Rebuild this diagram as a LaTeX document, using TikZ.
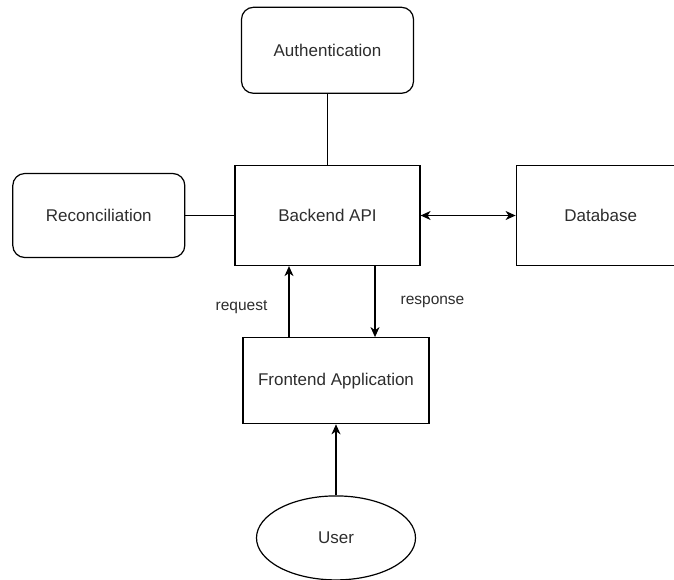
\documentclass[tikz,border=0pt]{standalone}
\usepackage{fontspec}
\setmainfont{Liberation Sans}
\usepackage{xcolor}
\usepackage{tikz}
\usetikzlibrary{shapes.geometric, arrows.meta, positioning, calc}
\definecolor{lineDark}{RGB}{0, 0, 0}
\definecolor{textDark}{RGB}{45, 45, 45}

\begin{document}
\begin{tikzpicture}[
    x=1pt, y=1pt,
    node distance=71pt and 49pt,
    flowtip/.tip={Stealth[length=10pt, width=9pt, inset=3pt]},
    roundbox/.style={
        rectangle,
        rounded corners=12pt,
        draw=lineDark,
        line width=1.2pt,
        minimum width=172pt,
        minimum height=86pt,
        inner sep=0pt,
        text=textDark,
        font=\fontsize{17pt}{20pt}\selectfont
    },
    plainbox/.style={
        rectangle,
        draw=lineDark,
        line width=1.2pt,
        minimum width=185pt,
        minimum height=100pt,
        inner sep=0pt,
        text=textDark,
        font=\fontsize{17pt}{20pt}\selectfont
    },
    userellipse/.style={
        ellipse,
        draw=lineDark,
        line width=1.2pt,
        minimum width=159pt,
        minimum height=84pt,
        inner sep=0pt,
        text=textDark,
        font=\fontsize{17pt}{20pt}\selectfont
    },
    edgelabel/.style={
        inner sep=0pt,
        text=textDark,
        font=\fontsize{15.5pt}{18pt}\selectfont
    },
    arrow/.style={
        -flowtip,
        line width=1.2pt,
        color=lineDark
    },
    plainline/.style={
        line width=1.2pt,
        color=lineDark
    }
]
\useasboundingbox (0,0) rectangle (674,-579);

% Main nodes
\node[plainbox] (backend) at (327.5,-215.5) {Backend API};
\node[roundbox, above=71pt of backend] (auth) {Authentication};
\node[roundbox, minimum height=84pt, left=49pt of backend] (recon) {Reconciliation};
\node[plainbox, minimum width=169pt, right=95pt of backend] (database) {Database};
\node[plainbox, minimum width=186pt, minimum height=86pt, below=71pt of backend, xshift=8.5pt] (frontend) {Frontend Application};
\node[userellipse, below=71pt of frontend] (user) {User};

% Plain links
\draw[plainline] (auth) -- (backend);
\draw[plainline] (recon) -- (backend);

% Arrows
\draw[arrow, flowtip-flowtip] (backend) -- (database);
\coordinate (reqfoot) at ([xshift=-47pt]frontend.north);
\coordinate (resptop) at ([xshift=47.5pt]backend.south);
\draw[arrow] (reqfoot) -- (reqfoot |- backend.south)
    node[edgelabel, pos=0.42, left=21pt] (reqlabel) {request};
\draw[arrow] (resptop) -- (resptop |- frontend.north)
    node[edgelabel, pos=0.5, right=25pt] (resplabel) {response};
\draw[arrow] (user) -- (frontend);

\end{tikzpicture}
\end{document}
